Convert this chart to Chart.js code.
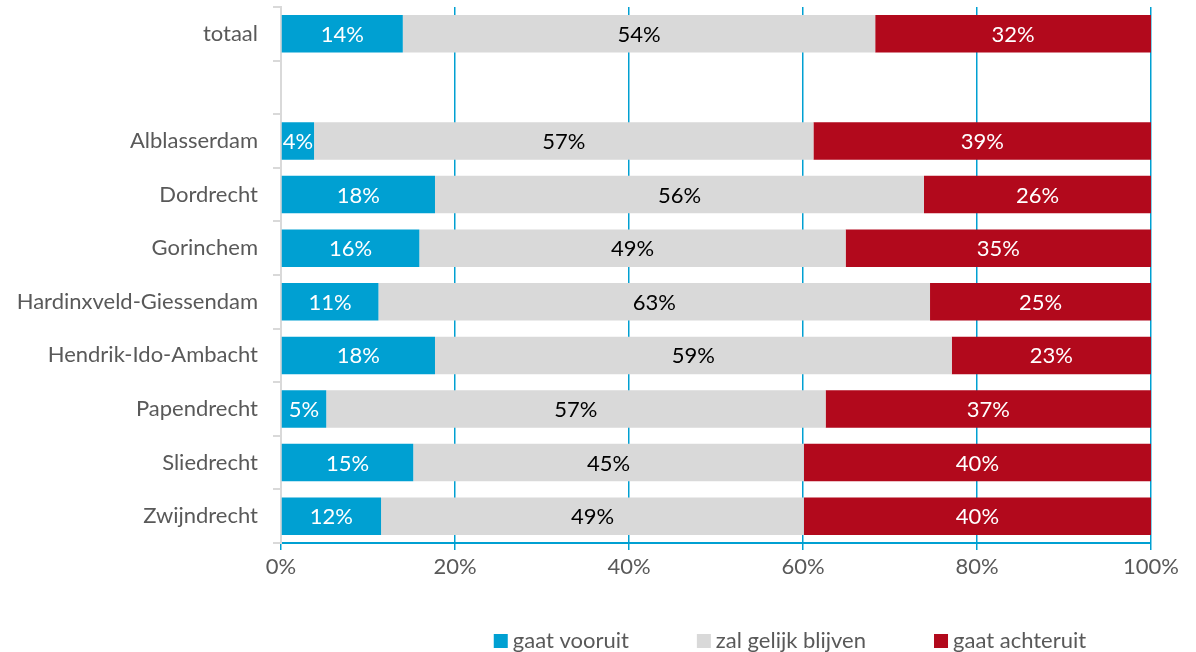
<!DOCTYPE html>
<html>
<head>
<meta charset="utf-8">
<script src="https://cdn.jsdelivr.net/npm/chart.js@4/dist/chart.umd.min.js"></script>
<style>
    html, body { margin: 0; padding: 0; background: #fff; }
    #wrap { width: 1196px; height: 652px; }
</style>
</head>
<body>
<div id="wrap"><canvas id="chart" width="1196" height="652"></canvas></div>
<script>
const categories = ['totaal', '', 'Alblasserdam', 'Dordrecht', 'Gorinchem', 'Hardinxveld-Giessendam',
    'Hendrik-Ido-Ambacht', 'Papendrecht', 'Sliedrecht', 'Zwijndrecht'];

const vooruit   = [14.0, null, 3.8, 17.7, 15.9, 11.2, 17.7, 5.2, 15.2, 11.5];
const gelijk    = [54.3, null, 57.4, 56.2, 49.0, 63.4, 59.4, 57.4, 44.9, 48.6];
const achteruit = [31.7, null, 38.8, 26.1, 35.1, 25.4, 22.9, 37.4, 39.9, 39.9];

const seriesNames = ['gaat vooruit', 'zal gelijk blijven', 'gaat achteruit'];
const seriesColors = ['#00a0d2', '#d9d9d9', '#b2091c'];
const labelColors = ['#ffffff', '#000000', '#ffffff'];
const xTicks = [0, 20, 40, 60, 80, 100];

const fontFamily = 'Lato, "Open Sans", sans-serif';
const fontSize = 22;
const greyText = '#595959';

// value labels inside each bar segment
const barLabels = {
    id: 'barLabels',
    afterDatasetsDraw(chart) {
        const ctx = chart.ctx;
        ctx.save();
        ctx.font = fontSize + 'px ' + fontFamily;
        ctx.textAlign = 'center';
        ctx.textBaseline = 'middle';
        chart.data.datasets.forEach((ds, i) => {
            const meta = chart.getDatasetMeta(i);
            meta.data.forEach((bar, j) => {
                const v = ds.data[j];
                if (v === null) return;
                ctx.fillStyle = labelColors[i];
                ctx.fillText(Math.round(v) + '%', (bar.x + bar.base) / 2, bar.y + 1);
            });
        });
        ctx.restore();
    }
};

// legend drawn by hand so it can sit off-centre like the original
const bottomLegend = {
    id: 'bottomLegend',
    afterDraw(chart) {
        const ctx = chart.ctx;
        const area = chart.chartArea;
        ctx.save();
        ctx.font = fontSize + 'px ' + fontFamily;
        ctx.textBaseline = 'middle';
        const box = 14, gap = 5, spacing = 68;
        const widths = seriesNames.map(n => box + gap + ctx.measureText(n).width);
        const total = widths.reduce((a, b) => a + b, 0) + spacing * (widths.length - 1);
        let x = area.left + (area.right - area.left) * 0.585 - total / 2;
        const y = 641;
        seriesNames.forEach((n, i) => {
            ctx.fillStyle = seriesColors[i];
            ctx.fillRect(x, y - box / 2, box, box);
            ctx.fillStyle = greyText;
            ctx.fillText(n, x + box + gap, y);
            x += widths[i] + spacing;
        });
        ctx.restore();
    }
};

new Chart(document.getElementById('chart'), {
    type: 'bar',
    data: {
        labels: categories,
        datasets: [vooruit, gelijk, achteruit].map((d, i) => ({
            label: seriesNames[i],
            data: d,
            backgroundColor: seriesColors[i],
            borderWidth: 0,
            barPercentage: 0.7,
            categoryPercentage: 1
        }))
    },
    options: {
        indexAxis: 'y',
        responsive: false,
        animation: false,
        layout: { padding: { top: 7, right: 45, left: 0, bottom: 0 } },
        plugins: {
            legend: { display: false },
            tooltip: { enabled: false }
        },
        scales: {
            x: {
                stacked: true,
                min: 0,
                max: 100,
                afterBuildTicks: s => { s.ticks = xTicks.map(v => ({ value: v })); },
                afterFit: s => { s.height = 109; s.paddingLeft = 0; s.paddingRight = 0; },
                ticks: {
                    callback: v => v + '%',
                    color: greyText,
                    font: { size: fontSize, family: fontFamily },
                    padding: 4,
                    maxRotation: 0
                },
                grid: {
                    color: 'rgb(0, 160, 210)',
                    tickColor: 'rgb(0, 160, 210)',
                    tickLength: 7,
                    lineWidth: 1.5
                },
                border: { color: 'rgb(0, 160, 210)', width: 2 }
            },
            y: {
                stacked: true,
                afterFit: s => { s.width = 281; s.paddingTop = 0; s.paddingBottom = 0; },
                ticks: {
                    color: greyText,
                    font: { size: fontSize, family: fontFamily },
                    padding: 15
                },
                grid: { drawOnChartArea: false, offset: true, color: '#d9d9d9', tickLength: 8, lineWidth: 2 },
                border: { color: '#d9d9d9', width: 2 }
            }
        }
    },
    plugins: [barLabels, bottomLegend]
});
</script>
</body>
</html>
